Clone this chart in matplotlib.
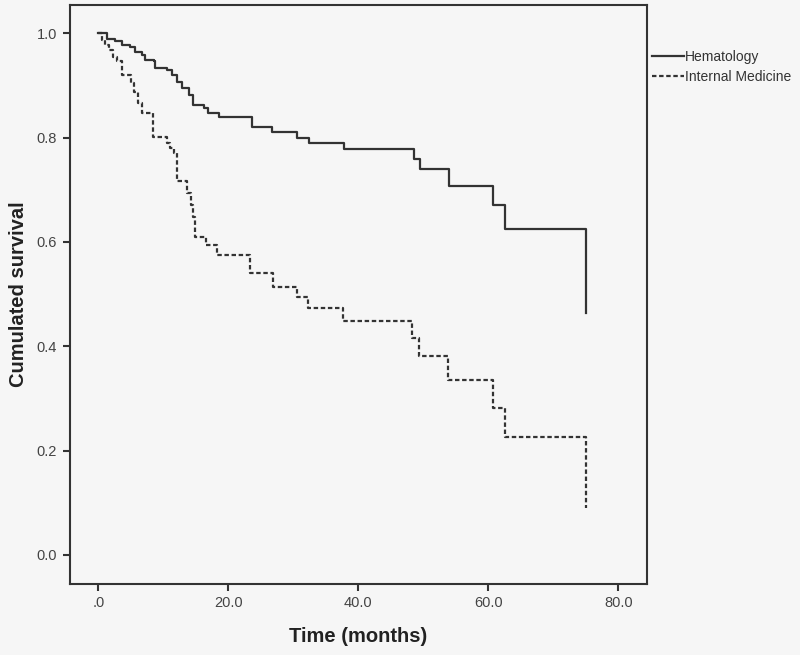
import numpy as np
import matplotlib.pyplot as plt
import matplotlib.ticker as ticker

plt.rcParams['font.family'] = ['Liberation Sans', 'DejaVu Sans']

# Kaplan-Meier steps (time in months, survival after event)
hem_time = [0, 1.3, 2.6, 3.6, 4.9, 5.7, 6.7, 7.2, 8.5, 8.7, 10.5, 11.3, 12.1, 12.8,
            13.9, 14.6, 16.2, 16.9, 18.5, 23.6, 26.7, 30.6, 32.4, 37.8, 48.5, 49.5,
            54.0, 60.8, 62.6, 75.1]
hem_surv = [1.0, 0.990, 0.986, 0.978, 0.973, 0.965, 0.958, 0.949, 0.946, 0.933, 0.930,
            0.920, 0.907, 0.895, 0.882, 0.863, 0.856, 0.848, 0.840, 0.821, 0.810, 0.800,
            0.790, 0.778, 0.759, 0.739, 0.708, 0.671, 0.625, 0.464]

im_time = [0, 0.5, 1.0, 1.6, 2.3, 2.9, 3.6, 5.0, 5.5, 6.1, 6.7, 8.4, 10.5, 11.0, 11.6,
           12.1, 13.6, 14.2, 14.6, 14.9, 16.6, 18.2, 23.4, 26.8, 30.6, 32.3, 37.7,
           48.3, 49.3, 53.8, 60.7, 62.5, 75.0]
im_surv = [1.0, 0.987, 0.978, 0.968, 0.955, 0.946, 0.920, 0.904, 0.888, 0.866, 0.847,
           0.802, 0.790, 0.780, 0.770, 0.716, 0.693, 0.670, 0.648, 0.610, 0.594, 0.575,
           0.540, 0.514, 0.495, 0.473, 0.449, 0.415, 0.382, 0.335, 0.281, 0.227, 0.0895]

group_names = ['Hematology', 'Internal Medicine']

bg = '#f6f6f6'
ink = '#333333'

fig = plt.figure(figsize=(8, 6.55), dpi=100, facecolor=bg)
ax = fig.add_axes([0.0869, 0.1084, 0.7222, 0.8844], facecolor=bg)

ax.step(hem_time, hem_surv, where='post', color=ink, lw=1.6, label=group_names[0])
ax.step(im_time, im_surv, where='post', color=ink, lw=1.6,
        linestyle=(0, (2.0, 1.2)), label=group_names[1])

ax.set_xlim(-4.43, 84.46)
ax.set_ylim(-0.0556, 1.0548)
ax.set_xticks([0, 20, 40, 60, 80])
ax.set_yticks([0.0, 0.2, 0.4, 0.6, 0.8, 1.0])
ax.xaxis.set_major_formatter(ticker.FuncFormatter(
    lambda v, p: ('%.1f' % v).lstrip('0') if abs(v) < 1e-9 else '%.1f' % v))
ax.yaxis.set_major_formatter(ticker.FormatStrFormatter('%.1f'))

for s in ax.spines.values():
    s.set_color(ink)
    s.set_linewidth(1.5)
ax.tick_params(direction='out', length=5, width=1.5, color=ink,
               labelsize=10.5, labelcolor='#444444', pad=4)

ax.set_xlabel('Time (months)', fontsize=14.5, fontweight='bold', color='#222222', labelpad=12)
ax.set_ylabel('Cumulated survival', fontsize=14.5, fontweight='bold', color='#222222', labelpad=6)

ax.legend(loc='upper left', bbox_to_anchor=(0.998, 0.931), frameon=False,
          fontsize=10, handlelength=2.3, handletextpad=0.1, borderaxespad=0.0,
          labelspacing=0.4, labelcolor='#333333')

fig.savefig('out.png', dpi=100, facecolor=bg)
